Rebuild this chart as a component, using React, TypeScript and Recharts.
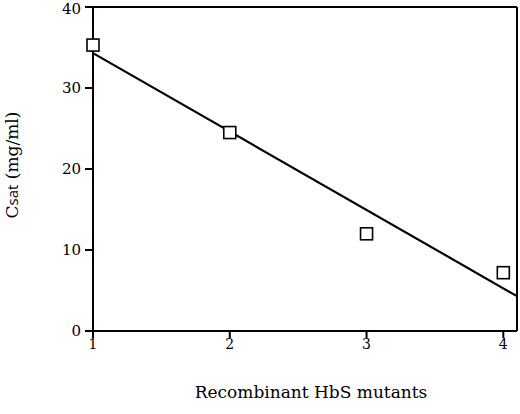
import React from 'react';
import { ComposedChart, XAxis, YAxis, Scatter, Line, ReferenceLine, Label } from 'recharts';

const mutants = [1, 2, 3, 4];
const csatValues = [35.3, 24.5, 12.0, 7.2];
// least-squares fit, drawn from x=1 to the right frame
const fitX = [1, 4.1];
const fitY = [34.3, 4.3];
const yTicks = [0, 10, 20, 30, 40];
const xTicks = [1, 2, 3, 4];

const points = mutants.map((m, i) => ({ x: m, y: csatValues[i] }));
const fitLine = fitX.map((x, i) => ({ x, y: fitY[i] }));

const FONT = '"DejaVu Serif", "Liberation Serif", serif';

const SquareMarker = (props: any) => {
  const { cx, cy } = props;
  return <rect x={cx - 6} y={cy - 6} width={12} height={12} fill="#fff" stroke="#000" strokeWidth={1.6} />;
};

const CsatLabel = (props: any) => {
  const { viewBox } = props;
  // sits near the left edge of the picture, a little above the plot's middle
  const x = 12;
  const y = viewBox.y + viewBox.height / 2 - 4;
  return (
    <text
      x={x}
      y={y}
      transform={`rotate(-90, ${x}, ${y})`}
      textAnchor="middle"
      dominantBaseline="central"
      fontFamily={FONT}
      fontSize={17}
      fill="#000"
    >
      <tspan>C</tspan>
      <tspan fontSize={15} fontFamily='"Open Sans", sans-serif'>sat</tspan>
      <tspan> (mg/ml)</tspan>
    </text>
  );
};

const XTitle = (props: any) => {
  const { viewBox } = props;
  const x = viewBox.x + viewBox.width / 2 + 6;
  return (
    <text x={x} y={398} textAnchor="middle" fontFamily={FONT} fontSize={17} fill="#000">
      Recombinant HbS mutants
    </text>
  );
};

export default function App() {
  return (
    <div style={{ position: 'absolute', left: 0, top: 0, background: '#fff' }}>
      <ComposedChart width={520} height={414} margin={{ top: 7, right: 3, bottom: 0, left: 33 }}>
        <XAxis
          type="number"
          dataKey="x"
          domain={[1, 4.1]}
          ticks={xTicks}
          stroke="#000"
          strokeWidth={2}
          tickSize={7}
          tickMargin={1}
          tickLine={{ stroke: '#000', strokeWidth: 2 }}
          tick={{ fill: '#000', fontSize: 14, fontFamily: FONT }}
          height={83}
        >
          <Label content={<XTitle />} />
        </XAxis>
        <YAxis
          type="number"
          dataKey="y"
          domain={[0, 40]}
          ticks={yTicks}
          stroke="#000"
          strokeWidth={2}
          tickSize={8}
          tickMargin={4}
          tickLine={{ stroke: '#000', strokeWidth: 2 }}
          tick={{ fill: '#000', fontSize: 15, fontFamily: FONT }}
          width={60}
        >
          <Label content={<CsatLabel />} />
        </YAxis>
        <ReferenceLine y={40} stroke="#000" strokeWidth={2} />
        <ReferenceLine x={4.1} stroke="#000" strokeWidth={2} />
        <Line
          data={fitLine}
          dataKey="y"
          type="linear"
          stroke="#000"
          strokeWidth={2.2}
          dot={false}
          activeDot={false}
          isAnimationActive={false}
        />
        <Scatter data={points} dataKey="y" shape={<SquareMarker />} isAnimationActive={false} />
      </ComposedChart>
    </div>
  );
}
